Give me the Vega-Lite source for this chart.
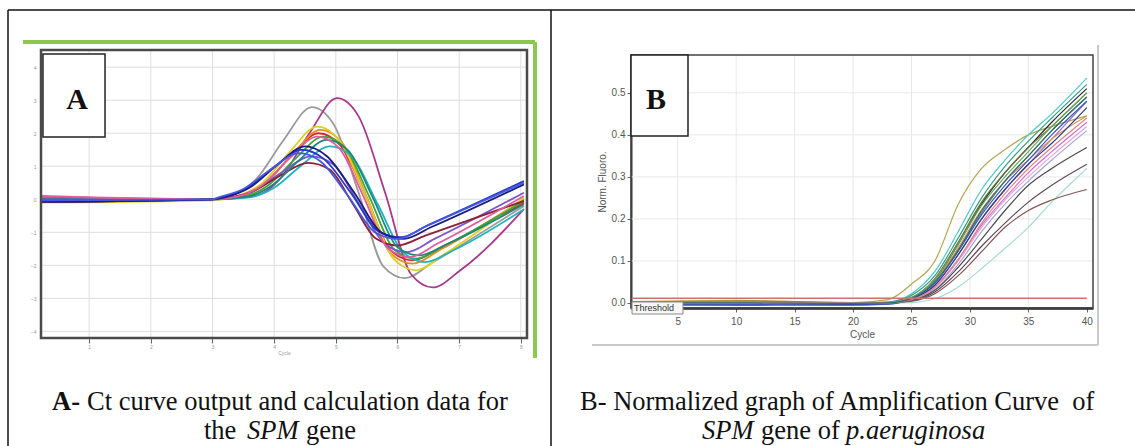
{
"$schema":"https://vega.github.io/schema/vega-lite/v6.json",
"width":1135,"height":446,"padding":0,"autosize":{"type":"none"},
"background":"#ffffff",
"config":{"view":{"stroke":null},"axis":{"grid":false}},
"datasets":{
"aGrid":[
{"x":1,"y":-4.2,"x2":1,"y2":4.52},{"x":2,"y":-4.2,"x2":2,"y2":4.52},{"x":3,"y":-4.2,"x2":3,"y2":4.52},{"x":4,"y":-4.2,"x2":4,"y2":4.52},{"x":5,"y":-4.2,"x2":5,"y2":4.52},{"x":6,"y":-4.2,"x2":6,"y2":4.52},{"x":7,"y":-4.2,"x2":7,"y2":4.52},{"x":8,"y":-4.2,"x2":8,"y2":4.52},
{"x":0.22,"y":-4,"x2":8.1,"y2":-4},{"x":0.22,"y":-3,"x2":8.1,"y2":-3},{"x":0.22,"y":-2,"x2":8.1,"y2":-2},{"x":0.22,"y":-1,"x2":8.1,"y2":-1},{"x":0.22,"y":0,"x2":8.1,"y2":0},{"x":0.22,"y":1,"x2":8.1,"y2":1},{"x":0.22,"y":2,"x2":8.1,"y2":2},{"x":0.22,"y":3,"x2":8.1,"y2":3},{"x":0.22,"y":4,"x2":8.1,"y2":4}
],
"aFrame":[{"x":0.22,"y":-4.2,"x2":8.1,"y2":4.52}],
"aGreen":[{"x":-0.072,"y":4.762,"x2":8.23,"y2":4.762},{"x":8.23,"y":4.762,"x2":8.23,"y2":-4.806}],
"aBox":[{"x":0.252,"y":1.886,"x2":1.258,"y2":4.399}],
"aLabel":[{"x":0.804,"y":3.006,"t":"A"}],
"aLines":[
{"s":"a1","x":0.22,"y":0},{"s":"a1","x":3.0,"y":0},{"s":"a1","x":3.31,"y":0.11},{"s":"a1","x":3.71,"y":0.61},{"s":"a1","x":4.16,"y":1.81},{"s":"a1","x":4.61,"y":2.79},{"s":"a1","x":4.96,"y":2.29},{"s":"a1","x":5.37,"y":0.2},{"s":"a1","x":5.77,"y":-2.03},{"s":"a1","x":6.12,"y":-2.39},{"s":"a1","x":6.57,"y":-1.91},{"s":"a1","x":8.05,"y":-0.2},
{"s":"a2","x":0.22,"y":0.02},{"s":"a2","x":3.0,"y":0},{"s":"a2","x":3.72,"y":0.12},{"s":"a2","x":4.12,"y":0.67},{"s":"a2","x":4.57,"y":1.99},{"s":"a2","x":5.02,"y":3.06},{"s":"a2","x":5.37,"y":2.51},{"s":"a2","x":5.8,"y":0.2},{"s":"a2","x":6.22,"y":-2.27},{"s":"a2","x":6.57,"y":-2.67},{"s":"a2","x":7.02,"y":-2.15},{"s":"a2","x":8.05,"y":-0.3},
{"s":"a5","x":0.22,"y":0.08},{"s":"a5","x":3.0,"y":0},{"s":"a5","x":3.42,"y":0.08},{"s":"a5","x":3.82,"y":0.44},{"s":"a5","x":4.27,"y":1.3},{"s":"a5","x":4.72,"y":2.0},{"s":"a5","x":5.07,"y":1.64},{"s":"a5","x":5.49,"y":0.08},{"s":"a5","x":5.9,"y":-1.57},{"s":"a5","x":6.25,"y":-1.85},{"s":"a5","x":6.7,"y":-1.47},{"s":"a5","x":8.05,"y":-0.1},
{"s":"a6","x":0.22,"y":0},{"s":"a6","x":3.0,"y":0},{"s":"a6","x":3.45,"y":0.08},{"s":"a6","x":3.85,"y":0.46},{"s":"a6","x":4.3,"y":1.37},{"s":"a6","x":4.75,"y":2.1},{"s":"a6","x":5.1,"y":1.72},{"s":"a6","x":5.5,"y":0.08},{"s":"a6","x":5.9,"y":-1.66},{"s":"a6","x":6.25,"y":-1.95},{"s":"a6","x":6.7,"y":-1.52},{"s":"a6","x":8.05,"y":0.0},
{"s":"a7","x":0.22,"y":-0.1},{"s":"a7","x":3.0,"y":-0.03},{"s":"a7","x":3.4,"y":0.09},{"s":"a7","x":3.8,"y":0.48},{"s":"a7","x":4.25,"y":1.43},{"s":"a7","x":4.7,"y":2.2},{"s":"a7","x":5.05,"y":1.8},{"s":"a7","x":5.5,"y":0.03},{"s":"a7","x":5.95,"y":-1.83},{"s":"a7","x":6.3,"y":-2.15},{"s":"a7","x":6.75,"y":-1.67},{"s":"a7","x":8.05,"y":0.05},
{"s":"a8","x":0.22,"y":0},{"s":"a8","x":3.0,"y":0},{"s":"a8","x":3.5,"y":0.08},{"s":"a8","x":3.9,"y":0.42},{"s":"a8","x":4.35,"y":1.24},{"s":"a8","x":4.8,"y":1.9},{"s":"a8","x":5.15,"y":1.56},{"s":"a8","x":5.55,"y":0.05},{"s":"a8","x":5.95,"y":-1.53},{"s":"a8","x":6.3,"y":-1.8},{"s":"a8","x":6.75,"y":-1.41},{"s":"a8","x":8.05,"y":-0.05},
{"s":"a9","x":0.22,"y":0},{"s":"a9","x":3.0,"y":0},{"s":"a9","x":3.6,"y":0.06},{"s":"a9","x":4.0,"y":0.35},{"s":"a9","x":4.45,"y":1.04},{"s":"a9","x":4.9,"y":1.6},{"s":"a9","x":5.25,"y":1.31},{"s":"a9","x":5.68,"y":-0.15},{"s":"a9","x":6.1,"y":-1.62},{"s":"a9","x":6.45,"y":-1.9},{"s":"a9","x":6.9,"y":-1.55},{"s":"a9","x":8.05,"y":-0.3},
{"s":"a10","x":0.22,"y":0.03},{"s":"a10","x":3.0,"y":0},{"s":"a10","x":3.3,"y":0.05},{"s":"a10","x":3.7,"y":0.29},{"s":"a10","x":4.15,"y":0.85},{"s":"a10","x":4.6,"y":1.3},{"s":"a10","x":4.95,"y":1.07},{"s":"a10","x":5.38,"y":-0.15},{"s":"a10","x":5.8,"y":-1.36},{"s":"a10","x":6.15,"y":-1.6},{"s":"a10","x":6.6,"y":-1.2},{"s":"a10","x":8.05,"y":0.2},
{"s":"a11","x":0.22,"y":-0.08},{"s":"a11","x":3.0,"y":0},{"s":"a11","x":3.25,"y":0.04},{"s":"a11","x":3.65,"y":0.24},{"s":"a11","x":4.1,"y":0.72},{"s":"a11","x":4.55,"y":1.1},{"s":"a11","x":4.9,"y":0.9},{"s":"a11","x":5.28,"y":-0.15},{"s":"a11","x":5.65,"y":-1.19},{"s":"a11","x":6.0,"y":-1.4},{"s":"a11","x":6.45,"y":-1.1},{"s":"a11","x":8.05,"y":-0.05},
{"s":"a12","x":0.22,"y":0},{"s":"a12","x":3.0,"y":0},{"s":"a12","x":3.55,"y":0.07},{"s":"a12","x":3.95,"y":0.4},{"s":"a12","x":4.4,"y":1.17},{"s":"a12","x":4.85,"y":1.8},{"s":"a12","x":5.2,"y":1.48},{"s":"a12","x":5.6,"y":0.05},{"s":"a12","x":6.0,"y":-1.45},{"s":"a12","x":6.35,"y":-1.7},{"s":"a12","x":6.8,"y":-1.36},{"s":"a12","x":8.05,"y":-0.15},
{"s":"a13","x":0.22,"y":0.1},{"s":"a13","x":3.0,"y":0},{"s":"a13","x":3.4,"y":0.08},{"s":"a13","x":3.8,"y":0.42},{"s":"a13","x":4.25,"y":1.24},{"s":"a13","x":4.7,"y":1.9},{"s":"a13","x":5.05,"y":1.56},{"s":"a13","x":5.45,"y":0.08},{"s":"a13","x":5.85,"y":-1.49},{"s":"a13","x":6.2,"y":-1.75},{"s":"a13","x":6.65,"y":-1.34},{"s":"a13","x":8.05,"y":0.1},
{"s":"a3","x":0.22,"y":-0.05},{"s":"a3","x":3.0,"y":0},{"s":"a3","x":3.15,"y":0.06},{"s":"a3","x":3.55,"y":0.33},{"s":"a3","x":4.0,"y":0.98},{"s":"a3","x":4.45,"y":1.5},{"s":"a3","x":4.8,"y":1.23},{"s":"a3","x":5.25,"y":0.18},{"s":"a3","x":5.7,"y":-0.98},{"s":"a3","x":6.05,"y":-1.15},{"s":"a3","x":6.5,"y":-0.78},{"s":"a3","x":8.05,"y":0.55},
{"s":"a4","x":0.22,"y":-0.08},{"s":"a4","x":3.0,"y":0},{"s":"a4","x":3.2,"y":0.06},{"s":"a4","x":3.6,"y":0.35},{"s":"a4","x":4.05,"y":1.04},{"s":"a4","x":4.5,"y":1.6},{"s":"a4","x":4.85,"y":1.31},{"s":"a4","x":5.3,"y":0.2},{"s":"a4","x":5.75,"y":-1.02},{"s":"a4","x":6.1,"y":-1.2},{"s":"a4","x":6.55,"y":-0.84},{"s":"a4","x":8.05,"y":0.45},
{"s":"a14","x":0.22,"y":-0.03},{"s":"a14","x":3.0,"y":0},{"s":"a14","x":3.1,"y":0.06},{"s":"a14","x":3.5,"y":0.31},{"s":"a14","x":3.95,"y":0.91},{"s":"a14","x":4.4,"y":1.4},{"s":"a14","x":4.75,"y":1.15},{"s":"a14","x":5.2,"y":0.1},{"s":"a14","x":5.65,"y":-1.02},{"s":"a14","x":6.0,"y":-1.2},{"s":"a14","x":6.45,"y":-0.83},{"s":"a14","x":8.05,"y":0.5}
],
"bGrid":[
{"x":5,"y":-0.012,"x2":5,"y2":0.59},{"x":10,"y":-0.012,"x2":10,"y2":0.59},{"x":15,"y":-0.012,"x2":15,"y2":0.59},{"x":20,"y":-0.012,"x2":20,"y2":0.59},{"x":25,"y":-0.012,"x2":25,"y2":0.59},{"x":30,"y":-0.012,"x2":30,"y2":0.59},{"x":35,"y":-0.012,"x2":35,"y2":0.59},
{"x":1,"y":0.1,"x2":40.53,"y2":0.1},{"x":1,"y":0.2,"x2":40.53,"y2":0.2},{"x":1,"y":0.3,"x2":40.53,"y2":0.3},{"x":1,"y":0.4,"x2":40.53,"y2":0.4},{"x":1,"y":0.5,"x2":40.53,"y2":0.5}
],
"bThreshold":[{"x":1,"y":0.011,"x2":40,"y2":0.011}],
"bFrame":[{"x":1,"y":-0.012,"x2":40.53,"y2":0.59}],
"bOuter":[{"x":40.96,"y":0.6138,"x2":40.96,"y2":-0.1},{"x":-2.337,"y":-0.1,"x2":40.96,"y2":-0.1}],
"bBox":[{"x":1,"y":0.397,"x2":5.877,"y2":0.59}],
"bLabel":[{"x":3.14,"y":0.483,"t":"B"}],
"bThrBox":[{"x":1.086,"y":-0.0263,"x2":5.45,"y2":0.0023}],
"bThrText":[{"x":1.25,"y":-0.0125,"t":"Threshold"}],
"bLines":[
{"s":"b1","x":1,"y":0.003},{"s":"b1","x":10,"y":0.006},{"s":"b1","x":20,"y":0.001},{"s":"b1","x":23,"y":0.008},{"s":"b1","x":25,"y":0.045},{"s":"b1","x":27,"y":0.1},{"s":"b1","x":29,"y":0.235},{"s":"b1","x":31,"y":0.32},{"s":"b1","x":33,"y":0.365},{"s":"b1","x":35,"y":0.4},{"s":"b1","x":37,"y":0.42},{"s":"b1","x":40,"y":0.445},
{"s":"b2","x":1,"y":0},{"s":"b2","x":10,"y":0},{"s":"b2","x":20,"y":0},{"s":"b2","x":23,"y":0.002},{"s":"b2","x":25,"y":0.022},{"s":"b2","x":27,"y":0.075},{"s":"b2","x":29,"y":0.17},{"s":"b2","x":31,"y":0.27},{"s":"b2","x":33,"y":0.34},{"s":"b2","x":35,"y":0.4},{"s":"b2","x":37,"y":0.45},{"s":"b2","x":40,"y":0.535},
{"s":"b3","x":1,"y":0.001},{"s":"b3","x":10,"y":0.002},{"s":"b3","x":20,"y":0},{"s":"b3","x":23,"y":0.002},{"s":"b3","x":25,"y":0.018},{"s":"b3","x":27,"y":0.065},{"s":"b3","x":29,"y":0.155},{"s":"b3","x":31,"y":0.25},{"s":"b3","x":33,"y":0.325},{"s":"b3","x":35,"y":0.385},{"s":"b3","x":37,"y":0.44},{"s":"b3","x":40,"y":0.52},
{"s":"b4","x":1,"y":-0.002},{"s":"b4","x":10,"y":-0.001},{"s":"b4","x":20,"y":-0.002},{"s":"b4","x":23,"y":0},{"s":"b4","x":25,"y":0.012},{"s":"b4","x":27,"y":0.055},{"s":"b4","x":29,"y":0.14},{"s":"b4","x":31,"y":0.235},{"s":"b4","x":33,"y":0.31},{"s":"b4","x":35,"y":0.37},{"s":"b4","x":37,"y":0.43},{"s":"b4","x":40,"y":0.51},
{"s":"b5","x":1,"y":0.002},{"s":"b5","x":10,"y":0.004},{"s":"b5","x":20,"y":0.001},{"s":"b5","x":23,"y":0.001},{"s":"b5","x":25,"y":0.013},{"s":"b5","x":27,"y":0.058},{"s":"b5","x":29,"y":0.145},{"s":"b5","x":31,"y":0.24},{"s":"b5","x":33,"y":0.31},{"s":"b5","x":35,"y":0.37},{"s":"b5","x":37,"y":0.42},{"s":"b5","x":40,"y":0.5},
{"s":"b6","x":1,"y":0},{"s":"b6","x":10,"y":0},{"s":"b6","x":20,"y":-0.001},{"s":"b6","x":23,"y":0},{"s":"b6","x":25,"y":0.011},{"s":"b6","x":27,"y":0.05},{"s":"b6","x":29,"y":0.128},{"s":"b6","x":31,"y":0.215},{"s":"b6","x":33,"y":0.29},{"s":"b6","x":35,"y":0.35},{"s":"b6","x":37,"y":0.41},{"s":"b6","x":40,"y":0.49},
{"s":"b7","x":1,"y":0},{"s":"b7","x":10,"y":0.001},{"s":"b7","x":20,"y":0},{"s":"b7","x":23,"y":0},{"s":"b7","x":25,"y":0.009},{"s":"b7","x":27,"y":0.043},{"s":"b7","x":29,"y":0.115},{"s":"b7","x":31,"y":0.2},{"s":"b7","x":33,"y":0.27},{"s":"b7","x":35,"y":0.33},{"s":"b7","x":37,"y":0.39},{"s":"b7","x":40,"y":0.48},
{"s":"b8","x":1,"y":0.001},{"s":"b8","x":10,"y":0},{"s":"b8","x":20,"y":0},{"s":"b8","x":23,"y":0},{"s":"b8","x":25,"y":0.008},{"s":"b8","x":27,"y":0.038},{"s":"b8","x":29,"y":0.104},{"s":"b8","x":31,"y":0.185},{"s":"b8","x":33,"y":0.25},{"s":"b8","x":35,"y":0.31},{"s":"b8","x":37,"y":0.36},{"s":"b8","x":40,"y":0.43},
{"s":"b9","x":1,"y":0},{"s":"b9","x":10,"y":0},{"s":"b9","x":20,"y":0},{"s":"b9","x":23,"y":0},{"s":"b9","x":25,"y":0.007},{"s":"b9","x":27,"y":0.036},{"s":"b9","x":29,"y":0.1},{"s":"b9","x":31,"y":0.18},{"s":"b9","x":33,"y":0.245},{"s":"b9","x":35,"y":0.3},{"s":"b9","x":37,"y":0.35},{"s":"b9","x":40,"y":0.42},
{"s":"b10","x":1,"y":0},{"s":"b10","x":10,"y":0},{"s":"b10","x":20,"y":0},{"s":"b10","x":23,"y":0},{"s":"b10","x":25,"y":0.006},{"s":"b10","x":27,"y":0.032},{"s":"b10","x":29,"y":0.092},{"s":"b10","x":31,"y":0.17},{"s":"b10","x":33,"y":0.235},{"s":"b10","x":35,"y":0.29},{"s":"b10","x":37,"y":0.34},{"s":"b10","x":40,"y":0.41},
{"s":"b11","x":1,"y":0.001},{"s":"b11","x":10,"y":0.002},{"s":"b11","x":20,"y":0},{"s":"b11","x":23,"y":0.001},{"s":"b11","x":25,"y":0.012},{"s":"b11","x":27,"y":0.052},{"s":"b11","x":29,"y":0.132},{"s":"b11","x":31,"y":0.222},{"s":"b11","x":33,"y":0.29},{"s":"b11","x":35,"y":0.34},{"s":"b11","x":37,"y":0.39},{"s":"b11","x":40,"y":0.445},
{"s":"b12","x":1,"y":-0.004},{"s":"b12","x":10,"y":-0.005},{"s":"b12","x":20,"y":-0.004},{"s":"b12","x":23,"y":-0.002},{"s":"b12","x":25,"y":0.009},{"s":"b12","x":27,"y":0.042},{"s":"b12","x":29,"y":0.115},{"s":"b12","x":31,"y":0.2},{"s":"b12","x":33,"y":0.27},{"s":"b12","x":35,"y":0.33},{"s":"b12","x":37,"y":0.38},{"s":"b12","x":40,"y":0.465},
{"s":"b13","x":1,"y":0},{"s":"b13","x":10,"y":0},{"s":"b13","x":20,"y":0},{"s":"b13","x":23,"y":0},{"s":"b13","x":25,"y":0.006},{"s":"b13","x":27,"y":0.03},{"s":"b13","x":29,"y":0.085},{"s":"b13","x":31,"y":0.152},{"s":"b13","x":33,"y":0.22},{"s":"b13","x":35,"y":0.28},{"s":"b13","x":37,"y":0.32},{"s":"b13","x":40,"y":0.37},
{"s":"b14","x":1,"y":0},{"s":"b14","x":10,"y":0},{"s":"b14","x":20,"y":0},{"s":"b14","x":23,"y":0},{"s":"b14","x":25,"y":0.005},{"s":"b14","x":27,"y":0.026},{"s":"b14","x":29,"y":0.074},{"s":"b14","x":31,"y":0.135},{"s":"b14","x":33,"y":0.19},{"s":"b14","x":35,"y":0.24},{"s":"b14","x":37,"y":0.28},{"s":"b14","x":40,"y":0.33},
{"s":"b15","x":1,"y":0},{"s":"b15","x":10,"y":0},{"s":"b15","x":20,"y":0},{"s":"b15","x":23,"y":0},{"s":"b15","x":25,"y":0.001},{"s":"b15","x":27,"y":0.01},{"s":"b15","x":29,"y":0.038},{"s":"b15","x":31,"y":0.082},{"s":"b15","x":33,"y":0.13},{"s":"b15","x":35,"y":0.18},{"s":"b15","x":37,"y":0.24},{"s":"b15","x":40,"y":0.32},
{"s":"b16","x":1,"y":0},{"s":"b16","x":10,"y":0},{"s":"b16","x":20,"y":0},{"s":"b16","x":23,"y":0},{"s":"b16","x":25,"y":0.004},{"s":"b16","x":27,"y":0.022},{"s":"b16","x":29,"y":0.065},{"s":"b16","x":31,"y":0.122},{"s":"b16","x":33,"y":0.18},{"s":"b16","x":35,"y":0.22},{"s":"b16","x":37,"y":0.245},{"s":"b16","x":40,"y":0.27},
{"s":"b17","x":1,"y":-0.005},{"s":"b17","x":10,"y":-0.004},{"s":"b17","x":20,"y":-0.005},{"s":"b17","x":23,"y":-0.003},{"s":"b17","x":25,"y":0.01},{"s":"b17","x":27,"y":0.047},{"s":"b17","x":29,"y":0.123},{"s":"b17","x":31,"y":0.21},{"s":"b17","x":33,"y":0.28},{"s":"b17","x":35,"y":0.34},{"s":"b17","x":37,"y":0.4},{"s":"b17","x":40,"y":0.48},
{"s":"b18","x":1,"y":0.002},{"s":"b18","x":10,"y":0.003},{"s":"b18","x":20,"y":0.001},{"s":"b18","x":23,"y":0.001},{"s":"b18","x":25,"y":0.013},{"s":"b18","x":27,"y":0.056},{"s":"b18","x":29,"y":0.14},{"s":"b18","x":31,"y":0.232},{"s":"b18","x":33,"y":0.3},{"s":"b18","x":35,"y":0.36},{"s":"b18","x":37,"y":0.42},{"s":"b18","x":40,"y":0.5},
{"s":"b19","x":1,"y":0},{"s":"b19","x":10,"y":0},{"s":"b19","x":20,"y":0},{"s":"b19","x":23,"y":0},{"s":"b19","x":25,"y":0.008},{"s":"b19","x":27,"y":0.037},{"s":"b19","x":29,"y":0.103},{"s":"b19","x":31,"y":0.19},{"s":"b19","x":33,"y":0.26},{"s":"b19","x":35,"y":0.32},{"s":"b19","x":37,"y":0.37},{"s":"b19","x":40,"y":0.44},
{"s":"b20","x":1,"y":0},{"s":"b20","x":10,"y":0},{"s":"b20","x":20,"y":-0.001},{"s":"b20","x":23,"y":0},{"s":"b20","x":25,"y":0.011},{"s":"b20","x":27,"y":0.05},{"s":"b20","x":29,"y":0.125},{"s":"b20","x":31,"y":0.22},{"s":"b20","x":33,"y":0.29},{"s":"b20","x":35,"y":0.35},{"s":"b20","x":37,"y":0.41},{"s":"b20","x":40,"y":0.49}
],
"pRules":[{"x":8,"y":10,"x2":1135,"y2":10},{"x":8,"y":10,"x2":8,"y2":446},{"x":551,"y":10,"x2":551,"y2":446}],
"pText":[
{"x":52,"y":402,"t":"A-","s":"b"},
{"x":87,"y":402,"t":"Ct curve output and calculation data for","s":"n"},
{"x":204,"y":431,"t":"the","s":"n"},
{"x":247,"y":431,"t":"SPM","s":"i"},
{"x":306,"y":431,"t":"gene","s":"n"},
{"x":580,"y":402,"t":"B- Normalized graph of Amplification Curve\u00a0 of","s":"n"},
{"x":702,"y":431,"t":"SPM","s":"i"},
{"x":761,"y":431,"t":"gene of","s":"n"},
{"x":846,"y":431,"t":"p.aeruginosa","s":"i"}
]
},
"layer":[
{
"encoding":{
"x":{"field":"x","type":"quantitative","scale":{"domain":[0.22,8.1],"range":[41,527],"nice":false,"zero":false},
"axis":{"orient":"bottom","offset":-108,"values":[1,2,3,4,5,6,7,8],"domain":false,"ticks":true,"tickSize":5,"tickColor":"#666","labelFontSize":5,"labelColor":"#999","labelPadding":1,"title":"Cycle","titleFontSize":5,"titleColor":"#999","titleFontWeight":"normal","titlePadding":1}},
"y":{"field":"y","type":"quantitative","scale":{"domain":[-4.2,4.52],"range":[338,50],"nice":false,"zero":false},
"axis":{"orient":"left","offset":-41,"values":[-4,-3,-2,-1,0,1,2,3,4],"domain":false,"ticks":false,"labelFontSize":5,"labelColor":"#999","labelPadding":5,"title":null}}
},
"layer":[
{"data":{"name":"aGrid"},"mark":{"type":"rule","color":"#dedede","strokeWidth":1},"encoding":{"x2":{"field":"x2"},"y2":{"field":"y2"}}},
{"data":{"name":"aLines"},"mark":{"type":"line","interpolate":"monotone","strokeWidth":1.8},
"encoding":{"color":{"field":"s","type":"nominal","legend":null,"scale":{"domain":["a1","a2","a3","a4","a5","a6","a7","a8","a9","a10","a11","a12","a13","a14"],"range":["#9a9a9a","#a8388c","#2838c8","#1c1c7c","#d82828","#e88c20","#e0d020","#38a838","#20b4bc","#7858c8","#8c2038","#208480","#e05ca0","#4458e8"]}}}},
{"data":{"name":"aFrame"},"mark":{"type":"rect","filled":false,"stroke":"#4a4a4a","strokeWidth":2.5},"encoding":{"x2":{"field":"x2"},"y2":{"field":"y2"}}},
{"data":{"name":"aGreen"},"mark":{"type":"rule","color":"#8cc850","strokeWidth":4},"encoding":{"x2":{"field":"x2"},"y2":{"field":"y2"}}},
{"data":{"name":"aBox"},"mark":{"type":"rect","fill":"#ffffff","stroke":"#222222","strokeWidth":1.5},"encoding":{"x2":{"field":"x2"},"y2":{"field":"y2"}}},
{"data":{"name":"aLabel"},"mark":{"type":"text","font":"Liberation Serif","fontSize":30,"fontWeight":"bold","color":"#111111","baseline":"middle","align":"center"},"encoding":{"text":{"field":"t"}}}
]
},
{
"encoding":{
"x":{"field":"x","type":"quantitative","scale":{"domain":[1,40.53],"range":[631,1093],"nice":false,"zero":false},
"axis":{"orient":"bottom","offset":-138,"values":[5,10,15,20,25,30,35,40],"domain":true,"domainColor":"#222222","domainWidth":2.5,"ticks":true,"tickSize":4,"tickColor":"#666666","labelFont":"Liberation Sans","labelFontSize":10,"labelColor":"#555555","labelPadding":4,"title":"Cycle","titleFont":"Liberation Sans","titleFontSize":10,"titleColor":"#555555","titleFontWeight":"normal","titlePadding":3}},
"y":{"field":"y","type":"quantitative","scale":{"domain":[-0.012,0.59],"range":[308,55],"nice":false,"zero":false},
"axis":{"orient":"left","offset":-631,"values":[0,0.1,0.2,0.3,0.4,0.5],"format":".1f","domain":true,"domainColor":"#333333","domainWidth":2,"ticks":true,"tickSize":4,"tickColor":"#666666","labelFont":"Liberation Sans","labelFontSize":10,"labelColor":"#555555","labelPadding":2,"title":"Norm. Fluoro.","titleFont":"Liberation Sans","titleFontSize":10,"titleColor":"#555555","titleFontWeight":"normal","titlePadding":4}}
},
"layer":[
{"data":{"name":"bGrid"},"mark":{"type":"rule","color":"#e8e8e8","strokeWidth":1},"encoding":{"x2":{"field":"x2"},"y2":{"field":"y2"}}},
{"data":{"name":"bLines"},"mark":{"type":"line","interpolate":"monotone","strokeWidth":1.2},
"encoding":{"color":{"field":"s","type":"nominal","legend":null,"scale":{"domain":["b1","b2","b3","b4","b5","b6","b7","b8","b9","b10","b11","b12","b13","b14","b15","b16","b17","b18","b19","b20"],"range":["#b5a550","#4cc8cc","#3a9c7c","#2a2a2a","#6c6c3c","#787878","#9474c4","#d070d4","#e8a4d4","#a4a4e4","#e0955a","#2c3c84","#4c4c4c","#64485c","#a8dcd0","#845454","#3858c0","#5cae5c","#e08484","#2f6f6f"]}}}},
{"data":{"name":"bThreshold"},"mark":{"type":"rule","color":"#cc7070","strokeWidth":1.5},"encoding":{"x2":{"field":"x2"},"y2":{"field":"y2"}}},
{"data":{"name":"bFrame"},"mark":{"type":"rect","filled":false,"stroke":"#444444","strokeWidth":1.5},"encoding":{"x2":{"field":"x2"},"y2":{"field":"y2"}}},
{"data":{"name":"bOuter"},"mark":{"type":"rule","color":"#c8c8c8","strokeWidth":2},"encoding":{"x2":{"field":"x2"},"y2":{"field":"y2"}}},
{"data":{"name":"bThrBox"},"mark":{"type":"rect","fill":"#f7f7f7","stroke":"#888888","strokeWidth":1},"encoding":{"x2":{"field":"x2"},"y2":{"field":"y2"}}},
{"data":{"name":"bThrText"},"mark":{"type":"text","font":"Liberation Sans","fontSize":9,"color":"#333333","baseline":"middle","align":"left"},"encoding":{"text":{"field":"t"}}},
{"data":{"name":"bBox"},"mark":{"type":"rect","fill":"#ffffff","stroke":"#222222","strokeWidth":1.5},"encoding":{"x2":{"field":"x2"},"y2":{"field":"y2"}}},
{"data":{"name":"bLabel"},"mark":{"type":"text","font":"Liberation Serif","fontSize":30,"fontWeight":"bold","color":"#111111","baseline":"middle","align":"center"},"encoding":{"text":{"field":"t"}}}
]
},
{
"encoding":{
"x":{"field":"x","type":"quantitative","scale":{"domain":[0,1135],"range":[0,1135],"nice":false,"zero":false},"axis":null},
"y":{"field":"y","type":"quantitative","scale":{"domain":[0,446],"range":[0,446],"nice":false,"zero":false},"axis":null}
},
"layer":[
{"data":{"name":"pRules"},"mark":{"type":"rule","color":"#111111","strokeWidth":1.5},"encoding":{"x2":{"field":"x2"},"y2":{"field":"y2"}}},
{"data":{"name":"pText"},"transform":[{"filter":"datum.s == 'n'"}],"mark":{"type":"text","font":"Liberation Serif","fontSize":26.5,"color":"#111111","baseline":"middle","align":"left"},"encoding":{"text":{"field":"t"}}},
{"data":{"name":"pText"},"transform":[{"filter":"datum.s == 'b'"}],"mark":{"type":"text","font":"Liberation Serif","fontSize":26.5,"fontWeight":"bold","color":"#111111","baseline":"middle","align":"left"},"encoding":{"text":{"field":"t"}}},
{"data":{"name":"pText"},"transform":[{"filter":"datum.s == 'i'"}],"mark":{"type":"text","font":"Liberation Serif","fontSize":26.5,"fontStyle":"italic","color":"#111111","baseline":"middle","align":"left"},"encoding":{"text":{"field":"t"}}}
]
}
],
"resolve":{"scale":{"x":"independent","y":"independent","color":"independent"},"axis":{"x":"independent","y":"independent"}}
}
